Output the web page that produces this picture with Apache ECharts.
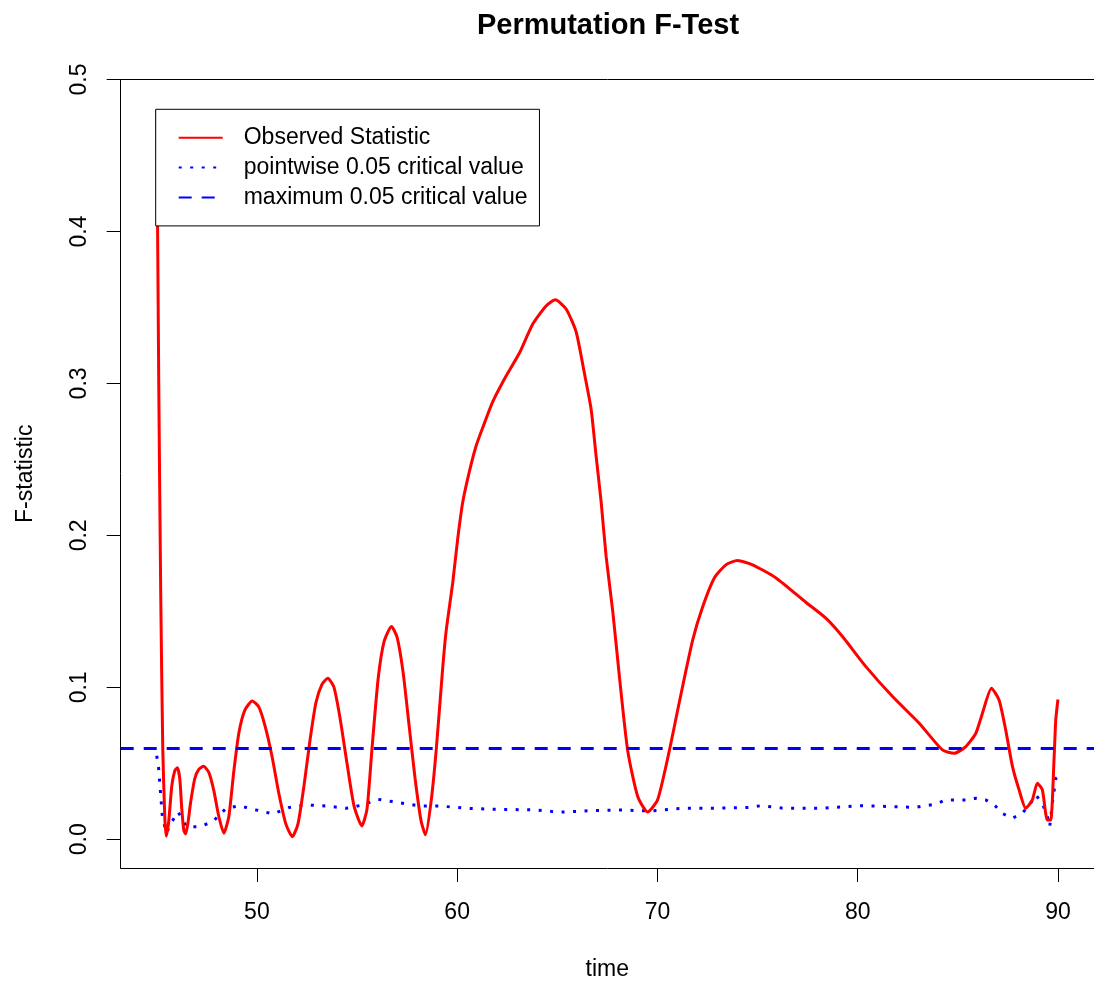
<!DOCTYPE html>
<html>
<head>
<meta charset="utf-8">
<script src="https://cdn.jsdelivr.net/npm/echarts@6/dist/echarts.min.js"></script>
<style>
html,body{margin:0;padding:0;background:#fff;}
#chart{width:1094px;height:986px;}
</style>
</head>
<body>
<div id="chart"></div>
<script>
// ---- data ----
var obsT = [45.0,45.1,45.2,45.3,45.4,45.47,45.6,45.75,45.9,46.03,46.15,46.25,46.35,46.44,46.55,46.7,46.9,47.1,47.34,47.6,47.85,48.1,48.35,48.6,48.85,49.1,49.4,49.77,50.1,50.4,50.75,51.1,51.45,51.77,52.05,52.35,52.65,52.95,53.25,53.54,53.85,54.15,54.5,54.85,55.24,55.5,55.75,56.05,56.35,56.72,57.0,57.3,57.6,57.9,58.2,58.42,58.7,58.95,59.28,59.45,59.78,60.03,60.28,60.61,60.95,61.28,61.78,62.45,63.11,63.77,64.44,64.9,65.44,65.94,66.35,66.69,66.94,67.19,67.44,67.77,68.11,68.52,69.02,69.51,70.01,70.59,71.09,71.76,72.26,72.84,73.42,74.0,74.75,75.92,77.41,78.41,79.24,80.41,81.74,83.07,84.23,84.82,85.4,85.9,86.23,86.68,87.06,87.39,87.73,88.06,88.39,88.72,88.97,89.22,89.47,89.64,89.81,89.89,90.0];
var obsV = [0.48,0.30,0.16,0.06,0.015,0.002,0.012,0.035,0.045,0.047,0.04,0.02,0.006,0.0035,0.01,0.025,0.04,0.046,0.048,0.044,0.032,0.015,0.004,0.015,0.045,0.07,0.085,0.091,0.087,0.075,0.055,0.03,0.01,0.0017,0.01,0.035,0.065,0.09,0.102,0.106,0.1,0.08,0.05,0.022,0.0088,0.02,0.06,0.105,0.13,0.14,0.133,0.11,0.075,0.04,0.012,0.003,0.025,0.058,0.113,0.137,0.169,0.198,0.222,0.242,0.259,0.271,0.288,0.305,0.320,0.339,0.351,0.355,0.349,0.334,0.307,0.283,0.252,0.222,0.186,0.15,0.106,0.058,0.028,0.018,0.026,0.058,0.09,0.131,0.153,0.172,0.1806,0.1834,0.1806,0.172,0.156,0.1455,0.1334,0.1136,0.0939,0.0764,0.0588,0.0566,0.061,0.0698,0.083,0.0994,0.0917,0.072,0.0478,0.0325,0.0204,0.0259,0.0369,0.0325,0.0127,0.0127,0.0544,0.0785,0.092];
var ptT = [45.0,45.1,45.18,45.28,45.48,45.73,46.06,46.25,46.48,47.14,47.8,48.47,49.14,49.97,50.8,51.63,52.47,53.46,54.46,55.29,56.04,57.12,58.12,59.12,60.45,61.78,63.94,65.1,66.6,68.26,69.6,71.26,72.92,74.58,75.17,76.25,78.08,80.24,82.9,83.9,84.4,85.4,85.9,86.4,86.86,87.22,87.72,88.22,88.64,88.89,89.22,89.47,89.59,89.72,89.89,90.0];
var ptV = [0.055,0.046,0.032,0.015,0.004,0.011,0.018,0.014,0.0083,0.0083,0.0116,0.0204,0.022,0.0193,0.0167,0.021,0.0226,0.0219,0.0204,0.0226,0.0263,0.0241,0.0219,0.0219,0.0204,0.0198,0.0193,0.0178,0.0188,0.0193,0.0186,0.0204,0.0204,0.021,0.0221,0.0205,0.0204,0.0221,0.021,0.0232,0.0259,0.0259,0.027,0.0259,0.0221,0.0171,0.0138,0.0171,0.0237,0.0292,0.0237,0.0149,0.0083,0.0237,0.040,0.041];
var maxCrit = 0.0578;
var xTicks = [50,60,70,80,90];
var yTicks = [0.0,0.1,0.2,0.3,0.4,0.5];
var seriesNames = ['Observed Statistic','pointwise 0.05 critical value','maximum 0.05 critical value'];
var titleText = 'Permutation F-Test';
var xName = 'time';
var yName = 'F-statistic';

function pairs(a,b){var r=[];for(var i=0;i<a.length;i++){r.push([a[i],b[i]]);}return r;}

var FONT = "'Liberation Sans', Arial, sans-serif";
var chart = echarts.init(document.getElementById('chart'), null, {renderer:'canvas'});
chart.setOption({
  animation:false,
  backgroundColor:'#fff',
  title:{
    text:titleText, left:603, top:6, textAlign:'center',
    textStyle:{fontFamily:FONT, fontSize:29, fontWeight:'bold', color:'#000'}
  },
  grid:{left:120.7, top:79.5, right:-2, bottom:118, show:false},
  legend:{
    orient:'vertical', left:155.7, top:109.3,
    backgroundColor:'#fff', borderColor:'#000', borderWidth:1,
    padding:[17,12,17,22], itemGap:6.8, itemWidth:44, itemHeight:14,
    itemStyle:{opacity:0},
    textStyle:{fontFamily:FONT, fontSize:23, color:'#000', lineHeight:22, padding:[0,0,0,16]},
    data:seriesNames
  },
  xAxis:[{
    type:'value', min:43.2, max:91.8, position:'bottom',
    name:xName, nameLocation:'middle', nameGap:90,
    nameTextStyle:{fontFamily:FONT, fontSize:23, color:'#000'},
    axisLine:{show:true, onZero:false, lineStyle:{color:'#000', width:1}},
    axisTick:{show:true, length:14, inside:false, customValues:xTicks, lineStyle:{color:'#000'}},
    axisLabel:{show:true, margin:33, customValues:xTicks, fontFamily:FONT, fontSize:23, color:'#000'},
    splitLine:{show:false}
  },{
    type:'value', min:43.2, max:91.8, position:'top',
    axisLine:{show:true, onZero:false, lineStyle:{color:'#000', width:1}},
    axisTick:{show:false}, axisLabel:{show:false}, splitLine:{show:false}
  }],
  yAxis:{
    type:'value', min:-0.0189, max:0.5,
    name:yName, nameLocation:'middle', nameGap:84, nameRotate:90,
    nameTextStyle:{fontFamily:FONT, fontSize:23, color:'#000'},
    axisLine:{show:true, onZero:false, lineStyle:{color:'#000', width:1}},
    axisTick:{show:true, length:14, inside:false, customValues:yTicks, lineStyle:{color:'#000'}},
    axisLabel:{show:true, margin:30, rotate:90, customValues:yTicks, fontFamily:FONT, fontSize:23, color:'#000',
      formatter:function(v){return v.toFixed(1);}},
    splitLine:{show:false}
  },
  series:[
    {
      name:seriesNames[0], type:'line', data:pairs(obsT,obsV), symbol:'none', smooth:0.2,
      color:'#ff0000', lineStyle:{color:'#ff0000', width:3}, z:3
    },
    {
      name:seriesNames[1], type:'line', data:pairs(ptT,ptV), symbol:'none', smooth:false,
      color:'#0000ff', lineStyle:{color:'#0000ff', width:3, type:[3,8.5]}, z:2
    },
    {
      name:seriesNames[2], type:'line', data:[], symbol:'none',
      color:'#0000ff', lineStyle:{color:'#0000ff', width:3, type:[13,10]},
      markLine:{
        silent:true, symbol:['none','none'], label:{show:false},
        lineStyle:{color:'#0000ff', width:3, type:[13,10]},
        data:[{yAxis:maxCrit}]
      }, z:2
    }
  ]
});
</script>
</body>
</html>
